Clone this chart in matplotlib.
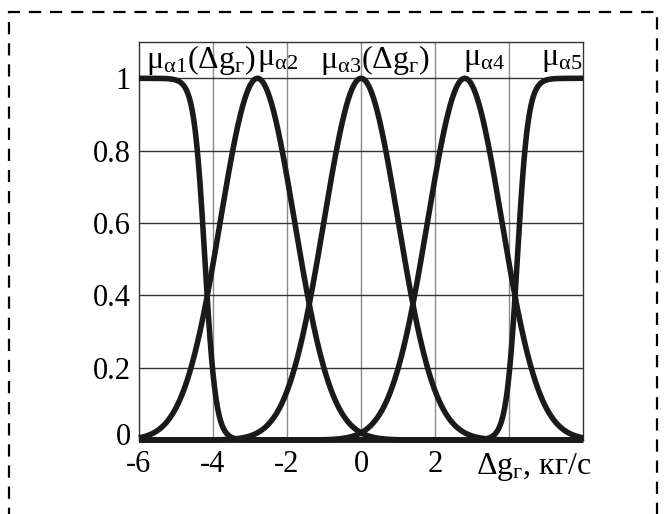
import numpy as np
import matplotlib.pyplot as plt
from matplotlib.patches import Rectangle
from matplotlib.transforms import ScaledTranslation

plt.rcParams['font.family'] = ['Liberation Serif', 'DejaVu Serif']
plt.rcParams['mathtext.fontset'] = 'custom'
plt.rcParams['mathtext.rm'] = 'Liberation Serif'
plt.rcParams['mathtext.it'] = 'Liberation Serif:italic'
plt.rcParams['axes.unicode_minus'] = False

# Параметри функцій належності (терми α1..α5)
gauss_centers = [-2.8, 0.0, 2.8]      # μα2, μα3, μα4
gauss_sigmas = [1.0, 1.0, 1.0]
edge_centers = [-4.22, 4.22]          # μα1 (Z), μα5 (S)
edge_slopes = [-6.8, 6.8]

term_labels = [r'$\mathrm{\mu_{\alpha1}(\Delta g_{г})}$', r'$\mathrm{\mu_{\alpha2}}$',
               r'$\mathrm{\mu_{\alpha3}(\Delta g_{г})}$', r'$\mathrm{\mu_{\alpha4}}$',
               r'$\mathrm{\mu_{\alpha5}}$']
label_x = [-5.82, -2.8, -1.1, 2.75, 4.85]

xticks = [-6, -4, -2, 0, 2, 4, 6]
xtick_labels = ['-6', '-4', '-2', '0', '2', '', '']
yticks = [0, 0.2, 0.4, 0.6, 0.8, 1.0]
ytick_labels = ['0', '0.2', '0.4', '0.6', '0.8', '1']

x = np.linspace(-6, 6, 1201)

fig = plt.figure(figsize=(6.65, 5.14), dpi=100)
ax = fig.add_axes([0.209, 0.144, 0.668, 0.774])

curve_style = dict(color='#1a1a1a', lw=4.0, solid_capstyle='butt', clip_on=False, zorder=3)
for c, k in zip(edge_centers, edge_slopes):
    ax.plot(x, 1.0 / (1.0 + np.exp(-k * (x - c))), **curve_style)
for c, s in zip(gauss_centers, gauss_sigmas):
    ax.plot(x, np.exp(-(x - c) ** 2 / (2 * s ** 2)), **curve_style)

ax.set_xlim(-6, 6)
ax.set_ylim(0, 1.1)
ax.set_xticks(xticks, xtick_labels)
ax.set_yticks(yticks, ytick_labels)
ax.tick_params(length=0, labelsize=22)
ax.tick_params(axis='x', pad=7)
ax.tick_params(axis='y', pad=6)

# підняти підпис "0" по осі y, щоб не налазив на "-6"
zero_lbl = ax.get_yticklabels()[0]
zero_lbl.set_transform(zero_lbl.get_transform() + ScaledTranslation(0, 4 / 72, fig.dpi_scale_trans))

# сітка: вертикальні лінії світліші за горизонтальні
for xv in xticks[1:-1]:
    ax.axvline(xv, color='#8a8a8a', lw=1.0, zorder=1)
for yv in yticks[1:]:
    ax.axhline(yv, color='#333333', lw=1.0, zorder=1)
for sp in ax.spines.values():
    sp.set_linewidth(1.0)
    sp.set_color('#333333')

for lbl, lx in zip(term_labels, label_x):
    ax.text(lx, 1.052, lbl, fontsize=23, ha='left', va='center', zorder=4)

ax.text(3.1, -0.075, r'$\mathrm{\Delta g_{г}}$, кг/с', fontsize=23, ha='left', va='center')

# штрихова рамка навколо рисунка
fig.patches.append(Rectangle((9 / 665, -0.1), 648 / 665, 1.1 - 12 / 514, transform=fig.transFigure,
                             fill=False, ls=(0, (5.5, 4)), lw=1.6, color='black'))

fig.savefig('out.png', dpi=100)
